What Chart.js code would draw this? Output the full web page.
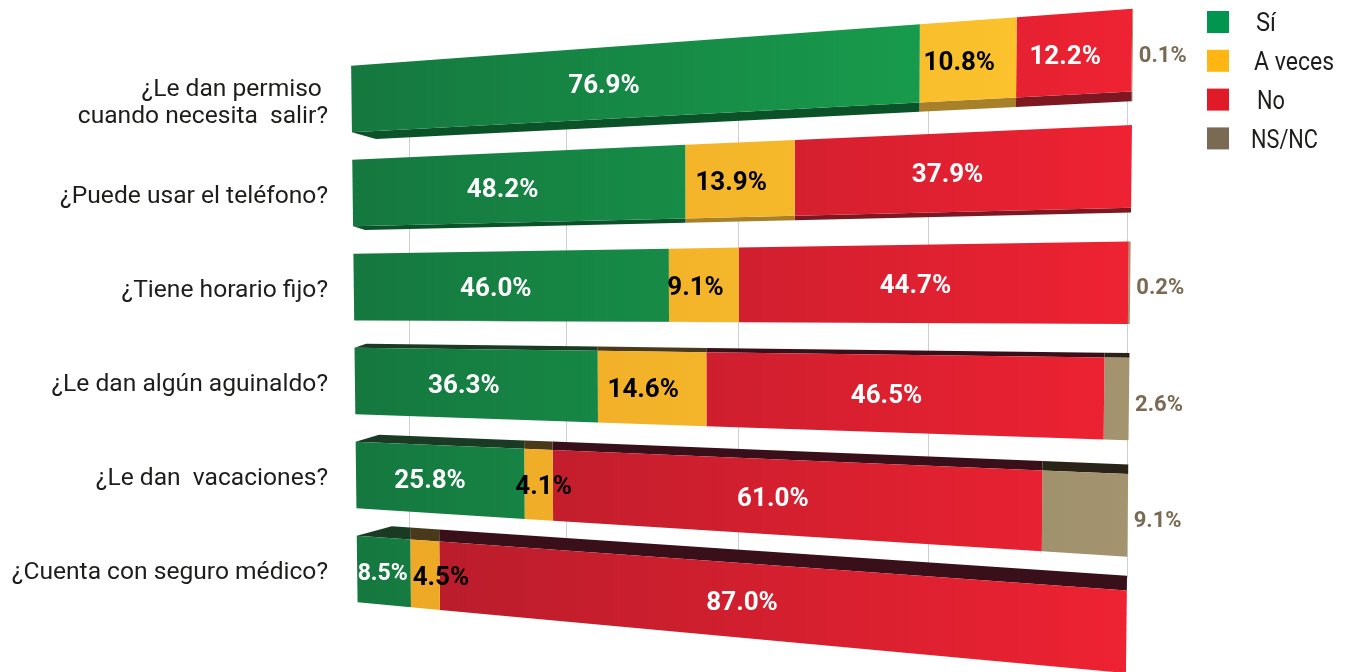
<!DOCTYPE html>
<html lang="es">
<head>
  <meta charset="UTF-8">
  <title>Condiciones laborales</title>
  <script src="https://cdn.jsdelivr.net/npm/chart.js"></script>
  <style>
    body { margin: 0; background: #fff; }
    canvas { display: block; }
  </style>
</head>
<body>
  <canvas id="chart" width="1345" height="672"></canvas>
  <script>
    const categories = [
      ["¿Le dan permiso ", "cuando necesita  salir?"],
      "¿Puede usar el teléfono?",
      "¿Tiene horario fijo?",
      "¿Le dan algún aguinaldo?",
      "¿Le dan  vacaciones?",
      "¿Cuenta con seguro médico?"
    ];
    const si = [76.9, 48.2, 46.0, 36.3, 25.8, 8.5];
    const aVeces = [10.8, 13.9, 9.1, 14.6, 4.1, 4.5];
    const no = [12.2, 37.9, 44.7, 46.5, 61.0, 87.0];
    const nsnc = [0.1, null, 0.2, 2.6, 9.1, null];
    const gridTicks = [8.8, 32, 55, 78, 99.7];

    const FONT = "Roboto, sans-serif";
    // perspective of the picture: all bar edges run to one vanishing point on the left
    const VANISH_X = -2910, VANISH_Y = 305;
    const FORESHORTEN = 1.247;
    const DEPTH = 0.042, EYE_Y = 288;

    // linear scale with foreshortening, so bars and gridlines share the same mapping
    class PerspectiveScale extends Chart.LinearScale {
      static id = "perspective";
      getPixelForValue(value) {
        const d = (value - this.min) / (this.max - this.min);
        return this.left + this.width * d / (d + FORESHORTEN * (1 - d));
      }
      drawGrid(area) {
        const ctx = this.ctx;
        ctx.save();
        ctx.beginPath();
        ctx.rect(area.left, 98, area.width, 480);
        ctx.clip();
        super.drawGrid(area);
        ctx.restore();
      }
    }
    Chart.register(PerspectiveScale);

    function warp(area, px, py) {
      const s = (px - VANISH_X) / (area.left - VANISH_X);
      const y = VANISH_Y + (py - VANISH_Y) * s;
      const t = (px - area.left) / area.width;
      const skew = 0.012 + (-0.011 - 0.012) * t;
      return { x: px + (y - VANISH_Y) * skew, y: y };
    }

    function quad(ctx, area, pts, fill) {
      ctx.beginPath();
      pts.forEach((p, i) => {
        const w = warp(area, p[0], p[1]);
        if (i === 0) ctx.moveTo(w.x, w.y); else ctx.lineTo(w.x, w.y);
      });
      ctx.closePath();
      ctx.fillStyle = fill;
      ctx.fill();
    }

    const bars3d = {
      id: "bars3d",
      // the front face is shaded left to right, the side face sits above or below it
      beforeDatasetDraw(chart, args) {
        const ctx = chart.ctx, area = chart.chartArea;
        const ds = chart.data.datasets[args.index];
        const grad = ctx.createLinearGradient(area.left, 0, area.right, 0);
        grad.addColorStop(0, ds.faceLeft);
        grad.addColorStop(1, ds.faceRight);
        args.meta.data.forEach((bar, i) => {
          if (ds.data[i] === null) return;
          const x0 = bar.base, x1 = bar.x;
          const top = bar.y - bar.height / 2, bottom = bar.y + bar.height / 2;
          const d = DEPTH * (bar.y - EYE_Y);
          const bx0 = x0 <= area.left + 1 ? x0 + Math.abs(d) * 3 : x0;
          if (d > 0) {
            quad(ctx, area, [[bx0, top - d], [x1, top - d], [x1, top], [x0, top]], ds.sideTop);
          } else if (d < 0) {
            quad(ctx, area, [[x0, bottom], [x1, bottom], [x1, bottom - d], [bx0, bottom - d]], ds.sideBottom);
          }
          quad(ctx, area, [[x0, top], [x1, top], [x1, bottom], [x0, bottom]], grad);
        });
        return false;
      },
      afterDatasetsDraw(chart) {
        const ctx = chart.ctx, area = chart.chartArea, xs = chart.scales.x;
        const running = categories.map(() => 0);
        ctx.textBaseline = "middle";
        ctx.textAlign = "center";
        chart.data.datasets.forEach((ds, di) => {
          const meta = chart.getDatasetMeta(di);
          ds.data.forEach((v, i) => {
            if (v === null) return;
            const mid = running[i] + v / 2;
            running[i] += v;
            const outside = ds.label === "NS/NC";
            const key = di + "-" + i;
            const px = outside ? area.right + 30 : xs.getPixelForValue(mid) - 8 + (labelNudge[key] || 0);
            const at = warp(area, outside ? area.right : px, meta.data[i].y);
            ctx.font = (outside ? "bold 22px " : "bold " + (labelSize[key] || 26) + "px ") + FONT;
            ctx.fillStyle = ds.labelColor;
            ctx.fillText(v.toFixed(1) + "%", outside ? px + (at.x - area.right) : at.x, at.y + (outside ? 6 : 3));
          });
        });
      },
      // legend squares and text sit at the top right, outside the plot
      afterDraw(chart) {
        const ctx = chart.ctx;
        ctx.textBaseline = "middle";
        ctx.textAlign = "left";
        ctx.font = "25px " + FONT;
        chart.data.datasets.forEach((ds, i) => {
          const y = 22 + i * 38.8;
          ctx.fillStyle = ds.backgroundColor;
          ctx.fillRect(1207, y - 11, 22, 22);
          ctx.fillStyle = "#1d1d1b";
          ctx.fillText(ds.label, legendTextX[i], y + 3, legendTextW[i]);
        });
      }
    };

    const labelNudge = { "0-5": 7, "1-4": 13, "1-5": 24 };
    const labelSize = { "0-5": 23 };
    const legendTextX = [1256, 1254, 1257, 1251];
    const legendTextW = [20, 80, 28, 67];

    new Chart(document.getElementById("chart"), {
      type: "bar",
      plugins: [bars3d],
      data: {
        labels: categories,
        datasets: [
          { label: "Sí", data: si, backgroundColor: "#00964f", faceLeft: "#15783f", faceRight: "#19a751", sideTop: "#1b3a24", sideBottom: "#0c5229", labelColor: "#fff" },
          { label: "A veces", data: aVeces, backgroundColor: "#ffb612", faceLeft: "#eca626", faceRight: "#fdc72e", sideTop: "#4a3a1c", sideBottom: "#a8802a", labelColor: "#000" },
          { label: "No", data: no, backgroundColor: "#e01a26", faceLeft: "#b41c2b", faceRight: "#ee2232", sideTop: "#39101a", sideBottom: "#7d1823", labelColor: "#fff" },
          { label: "NS/NC", data: nsnc, backgroundColor: "#7a6a53", faceLeft: "#8f8263", faceRight: "#a3946f", sideTop: "#2a2418", sideBottom: "#5c5340", labelColor: "#7a6a53" }
        ]
      },
      options: {
        indexAxis: "y",
        responsive: false,
        animation: false,
        barPercentage: 0.71,
        categoryPercentage: 1,
        layout: { padding: { top: 52, bottom: 56, right: 215 } },
        plugins: { legend: { display: false }, tooltip: { enabled: false } },
        scales: {
          x: {
            type: "perspective",
            stacked: true,
            min: 0,
            max: 100,
            afterBuildTicks: (scale) => { scale.ticks = gridTicks.map((value) => ({ value })); },
            ticks: { display: false },
            border: { display: false },
            grid: { color: "#cfcfcf", drawTicks: false }
          },
          y: {
            stacked: true,
            afterFit: (scale) => { scale.width = 354; },
            ticks: { color: "#1d1d1b", padding: 18, labelOffset: 4, autoSkip: false, font: { family: FONT, size: 24.6, lineHeight: 1.09 } },
            border: { display: false },
            grid: { display: false }
          }
        }
      }
    });
  </script>
</body>
</html>
